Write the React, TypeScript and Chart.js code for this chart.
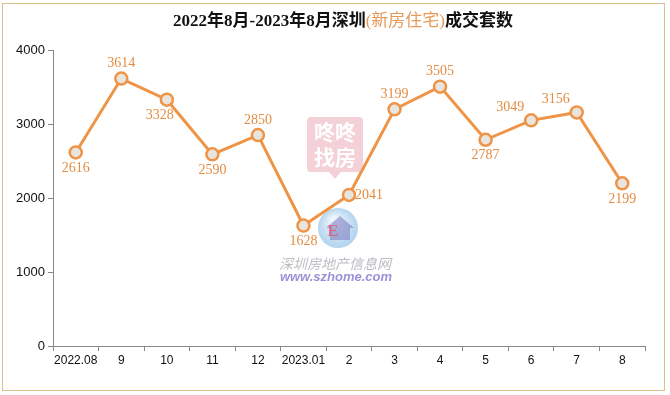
import React, { useEffect, useRef } from "react";
import { Chart, registerables } from "chart.js";

Chart.register(...registerables);

const categories = ["2022.08", "9", "10", "11", "12", "2023.01", "2", "3", "4", "5", "6", "7", "8"];
const sales = [2616, 3614, 3328, 2590, 2850, 1628, 2041, 3199, 3505, 2787, 3049, 3156, 2199];
const yTicks = [0, 1000, 2000, 3000, 4000];
const labelSides = ["below", "above", "belowLeft", "below", "above", "below", "right", "above", "above", "below", "aboveLeft", "aboveLeft", "below"];

const ORANGE = "#ef9447";
const LABEL = "#e38d42";

const extrasPlugin = {
  id: "extras",
  beforeDatasetsDraw(chart: any) {
    const ctx = chart.ctx;
    ctx.save();
    // pink watermark box
    const bx = 307, by = 117, bw = 56, bh = 55;
    ctx.fillStyle = "rgba(240,190,196,0.7)";
    ctx.beginPath();
    ctx.roundRect(bx, by, bw, bh, 4);
    ctx.fill();
    ctx.beginPath();
    ctx.moveTo(bx + 22, by + bh);
    ctx.lineTo(bx + 28, by + bh + 7);
    ctx.lineTo(bx + 34, by + bh);
    ctx.fill();
    ctx.fillStyle = "#ffffff";
    ctx.font = "bold 21px 'Noto Sans CJK SC'";
    ctx.textAlign = "center";
    ctx.textBaseline = "middle";
    ctx.fillText("咚咚", bx + bw / 2, by + 15);
    ctx.fillText("找房", bx + bw / 2, by + 40);
    // logo circle
    const g = ctx.createRadialGradient(334, 220, 3, 338, 228, 21);
    g.addColorStop(0, "rgba(235,245,252,0.85)");
    g.addColorStop(1, "rgba(150,195,232,0.75)");
    ctx.fillStyle = g;
    ctx.beginPath();
    ctx.arc(338, 228, 20, 0, Math.PI * 2);
    ctx.fill();
    // little house shape
    ctx.fillStyle = "rgba(120,120,190,0.55)";
    ctx.beginPath();
    ctx.moveTo(326, 228);
    ctx.lineTo(340, 216);
    ctx.lineTo(354, 228);
    ctx.lineTo(350, 228);
    ctx.lineTo(350, 240);
    ctx.lineTo(330, 240);
    ctx.lineTo(330, 228);
    ctx.closePath();
    ctx.fill();
    ctx.fillStyle = "rgba(220,90,110,0.75)";
    ctx.font = "bold 17px 'Liberation Serif'";
    ctx.fillText("E", 333, 232);
    // site text
    ctx.font = "italic 14px 'Noto Sans CJK SC'";
    ctx.fillStyle = "rgba(160,160,170,0.7)";
    ctx.fillText("深圳房地产信息网", 335, 264);
    ctx.font = "italic bold 13px 'Liberation Sans'";
    ctx.fillStyle = "rgba(120,110,200,0.75)";
    ctx.fillText("www.szhome.com", 336, 277);
    ctx.restore();
  },
  afterDatasetsDraw(chart: any) {
    const ctx = chart.ctx;
    const meta = chart.getDatasetMeta(0);
    ctx.save();
    ctx.font = "14px 'Liberation Serif'";
    ctx.fillStyle = LABEL;
    ctx.textAlign = "center";
    ctx.textBaseline = "middle";
    meta.data.forEach((pt: any, i: number) => {
      const v = String(sales[i]);
      let x = pt.x, y = pt.y;
      const s = labelSides[i];
      if (s === "below") y += 16;
      else if (s === "above") y -= 15;
      else if (s === "belowLeft") { y += 16; x -= 7; }
      else if (s === "aboveLeft") { y -= 13; x -= 21; }
      else if (s === "right") { x += 20; }
      ctx.fillText(v, x, y);
    });
    // title
    const parts = [
      { t: "2022年8月-2023年8月深圳", c: "#111111" },
      { t: "(新房住宅)", c: "#e89a5a" },
      { t: "成交套数", c: "#111111" },
    ];
    const fontFor = (c: string) => (c === "#111111" ? "bold 17px 'Liberation Serif', 'Noto Sans CJK SC'" : "17px 'Liberation Serif', 'Noto Sans CJK SC'");
    ctx.textAlign = "left";
    let total = 0;
    parts.forEach((p) => { ctx.font = fontFor(p.c); total += ctx.measureText(p.t).width; });
    let tx = 343 - total / 2;
    parts.forEach((p) => {
      ctx.fillStyle = p.c;
      ctx.font = fontFor(p.c);
      ctx.fillText(p.t, tx, 22);
      tx += ctx.measureText(p.t).width;
    });
    ctx.restore();
  },
};

export default function App() {
  const ref = useRef<HTMLCanvasElement>(null);
  useEffect(() => {
    document.body.style.margin = "0";
    const chart = new Chart(ref.current!, {
      type: "line",
      data: {
        labels: categories,
        datasets: [
          {
            data: sales,
            borderColor: ORANGE,
            borderWidth: 3,
            pointRadius: 6,
            pointBorderWidth: 2.5,
            pointBackgroundColor: "#e8e4de",
            pointBorderColor: ORANGE,
            tension: 0,
          },
        ],
      },
      options: {
        responsive: false,
        animation: false,
        layout: { padding: { left: 0, right: 25, top: 50, bottom: 19 } },
        plugins: { legend: { display: false }, title: { display: false }, tooltip: { enabled: false } },
        scales: {
          x: {
            offset: true,
            grid: { offset: true, drawOnChartArea: false, tickLength: 5, color: "#888888" },
            border: { color: "#888888" },
            ticks: { color: "#111111", font: { family: "'Liberation Sans'", size: 12 }, padding: 2, maxRotation: 0, autoSkip: false },
            afterFit: (s: any) => { s.height = 30; },
          },
          y: {
            min: 0,
            max: 4000,
            afterBuildTicks: (s: any) => { s.ticks = yTicks.map((v) => ({ value: v })); },
            grid: { drawOnChartArea: false, tickLength: 5, color: "#888888" },
            border: { color: "#888888" },
            ticks: { color: "#111111", font: { family: "'Liberation Sans'", size: 13 }, padding: 3, callback: (v: any) => String(v) },
            afterFit: (s: any) => { s.width = 53; },
          },
        },
      },
      plugins: [extrasPlugin],
    });
    return () => chart.destroy();
  }, []);
  return (
    <div style={{ position: "absolute", left: 0, top: 0, width: 670, height: 395, background: "#fff" }}>
      <div style={{ position: "absolute", left: 2, top: 3, width: 663, height: 388, border: "1px solid #dcc08e", boxSizing: "border-box" as any }} />
      <canvas ref={ref} width={670} height={395} style={{ position: "absolute", left: 0, top: 0, width: 670, height: 395 }} />
    </div>
  );
}
